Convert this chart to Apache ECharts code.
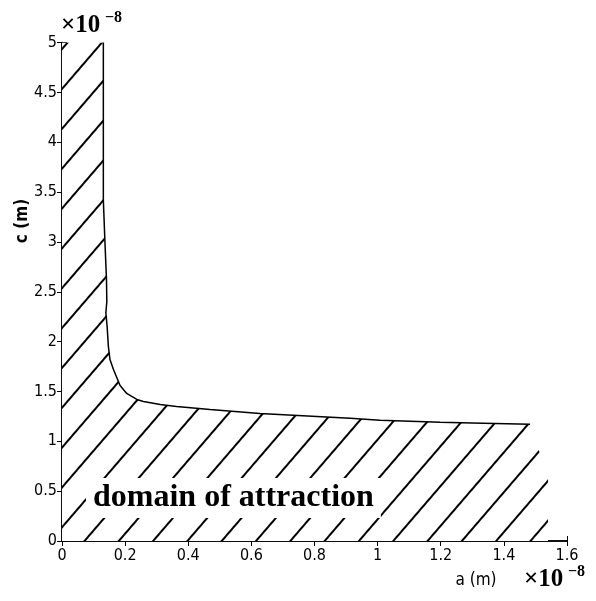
<!DOCTYPE html>
<html>
<head>
<meta charset="utf-8">
<script src="https://cdn.jsdelivr.net/npm/echarts@6/dist/echarts.min.js"></script>
<style>html,body{margin:0;padding:0;background:#fff}#c{width:596px;height:601px}</style>
</head>
<body>
<div id="c"></div>
<script>
// boundary curve of the domain of attraction (units of 1e-8 m)
var curveA = [0.131, 0.131, 0.136, 0.141, 0.142, 0.139, 0.143, 0.147, 0.152, 0.163, 0.184, 0.205, 0.237, 0.258, 0.311, 0.363, 0.469, 0.627, 0.913, 1.008, 1.198, 1.334, 1.483];
var curveC = [5.0, 3.42, 3.0, 2.62, 2.40, 2.29, 2.15, 1.95, 1.82, 1.72, 1.56, 1.48, 1.42, 1.40, 1.37, 1.35, 1.32, 1.28, 1.23, 1.21, 1.19, 1.18, 1.17];
// hatched region extra corners
var regionStartA = [0];
var regionStartC = [5.0];
var regionEndA = [1.51, 1.54];
var regionEndC = [0.92, 0.62];
var xTicks = [0, 0.2, 0.4, 0.6, 0.8, 1, 1.2, 1.4, 1.6];
var yTicks = [0, 0.5, 1, 1.5, 2, 2.5, 3, 3.5, 4, 4.5, 5];

var curve = curveA.map(function (a, i) { return [a, curveC[i]]; });
var region = regionStartA.map(function (a, i) { return [a, regionStartC[i]]; })
  .concat(curve)
  .concat(regionEndA.map(function (a, i) { return [a, regionEndC[i]]; }));

var tickFont = '"Liberation Sans Narrow", "DejaVu Sans Condensed", "Liberation Sans", sans-serif';
var axisCommon = {
  type: 'value',
  axisLine: { show: true, lineStyle: { color: '#000', width: 1.5 } },
  axisTick: { show: true, inside: true, length: 5, lineStyle: { color: '#000', width: 1 } },
  splitLine: { show: false },
  axisLabel: { color: '#000', fontFamily: tickFont, fontSize: 16 }
};
function ax(extra) { return Object.assign({}, JSON.parse(JSON.stringify(axisCommon)), extra); }

var chart = echarts.init(document.getElementById('c'), null, { renderer: 'canvas' });
chart.setOption({
  animation: false,
  backgroundColor: '#fff',
  grid: { left: 62, right: 29, top: 42.5, bottom: 60 },
  xAxis: [
    ax({ min: xTicks[0], max: xTicks[xTicks.length - 1], interval: 0.2, position: 'bottom',
      axisLabel: { color: '#000', fontFamily: tickFont, fontSize: 16, margin: 7 } }),
    ax({ min: xTicks[0], max: xTicks[xTicks.length - 1], interval: 0.2, position: 'top',
      axisLabel: { show: false } })
  ],
  yAxis: [
    ax({ min: yTicks[0], max: yTicks[yTicks.length - 1], interval: 0.5, position: 'left',
      axisLabel: { color: '#000', fontFamily: tickFont, fontSize: 16, margin: 5 } }),
    ax({ min: yTicks[0], max: yTicks[yTicks.length - 1], interval: 0.5, position: 'right',
      axisLabel: { show: false } })
  ],
  title: {
    text: 'domain of attraction',
    left: 86, top: 478,
    padding: [4, 7],
    backgroundColor: '#fff',
    textStyle: { fontFamily: '"Liberation Serif", "Times New Roman", serif', fontWeight: 'bold', fontSize: 32, color: '#000' }
  },
  graphic: [
    { type: 'text', x: 23, y: 221, rotation: Math.PI / 2,
      style: { text: 'c (m)', font: 'bold 17px ' + tickFont, fill: '#000', align: 'center', verticalAlign: 'middle' } },
    { type: 'text', x: 476, y: 581,
      style: { text: 'a (m)', font: '17px ' + tickFont, fill: '#000', align: 'center', verticalAlign: 'middle' } },
    { type: 'text', x: 61, y: 26,
      style: { text: '\u00d710', font: 'bold 25px "Liberation Serif", serif', fill: '#000', align: 'left', verticalAlign: 'middle' } },
    { type: 'text', x: 105, y: 18,
      style: { text: '\u22128', font: 'bold 16px "Liberation Serif", serif', fill: '#000', align: 'left', verticalAlign: 'middle' } },
    { type: 'text', x: 524, y: 580,
      style: { text: '\u00d710', font: 'bold 25px "Liberation Serif", serif', fill: '#000', align: 'left', verticalAlign: 'middle' } },
    { type: 'text', x: 568, y: 572,
      style: { text: '\u22128', font: 'bold 16px "Liberation Serif", serif', fill: '#000', align: 'left', verticalAlign: 'middle' } }
  ],
  series: [
    {
      type: 'line', data: region, showSymbol: false, symbol: 'none', z: 1, silent: true,
      lineStyle: { width: 0, opacity: 0 },
      itemStyle: {
        color: '#fff',
        decal: { symbol: 'rect', symbolSize: 1, dashArrayX: [1, 0], dashArrayY: [1.6, 24], rotation: -0.86, color: '#000' }
      },
      areaStyle: { color: '#fff', opacity: 1 }
    },
    {
      type: 'line', data: curve, showSymbol: false, symbol: 'none', z: 3, silent: true,
      lineStyle: { color: '#000', width: 1.5 }
    }
  ]
});
</script>
</body>
</html>
